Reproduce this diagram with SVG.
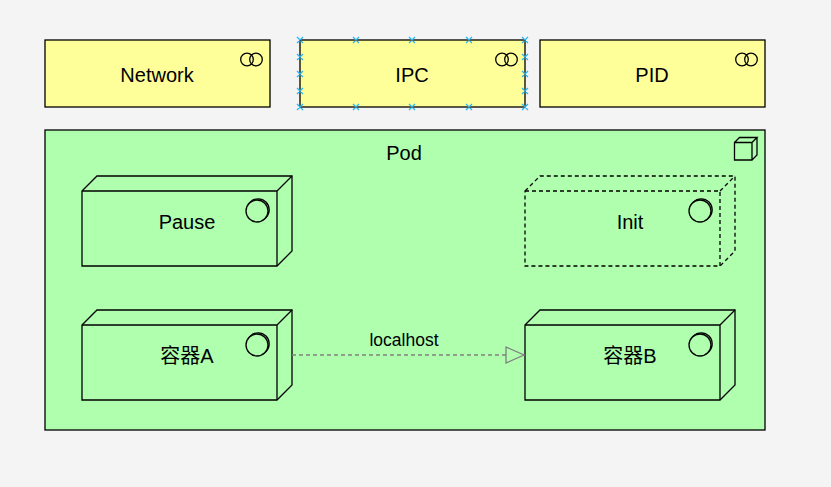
<svg xmlns="http://www.w3.org/2000/svg" width="831" height="487" viewBox="0 0 831 487">
<style>
.bg{fill:#f4f4f4}
.yel{fill:#ffff99;stroke:#000;stroke-width:1.3}
.grn{fill:#afffaf;stroke:#000;stroke-width:1.3}
.dash{stroke-dasharray:4 3}
.ln{fill:none;stroke:#000;stroke-width:1.3}
.t{font-family:"Liberation Sans",Arial,"Noto Sans CJK SC",sans-serif;font-size:20px;fill:#000;text-anchor:middle}
.lbl{font-family:"Liberation Sans",Arial,sans-serif;font-size:17.5px;fill:#000;text-anchor:middle}
.sel{fill:none;stroke:#29b6f2;stroke-width:1.3}
.con{fill:none;stroke:#808080;stroke-width:1.3;stroke-dasharray:4 3}
</style>
<defs>
<marker id="tri" markerUnits="userSpaceOnUse" markerWidth="22" markerHeight="20" refX="19" refY="9" orient="auto">
<path d="M1,1 L19,9 L1,17 Z" fill="#afffaf" stroke="#808080" stroke-width="1.3"/>
</marker>
<g id="collab"><circle cx="-4.5" cy="0" r="6.3" class="ln"/><circle cx="4.5" cy="0" r="6.3" class="ln"/></g>
<g id="comp"><circle cx="1.2" cy="-1.2" r="11" class="ln"/><circle cx="0" cy="0" r="11" fill="#afffaf" stroke="#000" stroke-width="1.3"/></g>
</defs>
<rect class="bg" x="0" y="0" width="831" height="487"/>

<g id="network">
<rect class="yel" x="45" y="40" width="225" height="67"/>
<use href="#collab" x="251.5" y="59.5"/>
<text class="t" x="157" y="81.5">Network</text>
</g>

<g id="ipc">
<rect class="yel" x="300" y="40" width="225" height="67"/>
<use href="#collab" x="506.5" y="59.5"/>
<text class="t" x="412" y="81.5">IPC</text>
<path class="sel" d="M297,37l6,6m0,-6l-6,6 M353,37l6,6m0,-6l-6,6 M409,37l6,6m0,-6l-6,6 M466,37l6,6m0,-6l-6,6 M522,37l6,6m0,-6l-6,6 M297,104l6,6m0,-6l-6,6 M353,104l6,6m0,-6l-6,6 M409,104l6,6m0,-6l-6,6 M466,104l6,6m0,-6l-6,6 M522,104l6,6m0,-6l-6,6 M297,54l6,6m0,-6l-6,6 M297,71l6,6m0,-6l-6,6 M297,88l6,6m0,-6l-6,6 M522,54l6,6m0,-6l-6,6 M522,71l6,6m0,-6l-6,6 M522,88l6,6m0,-6l-6,6"/>
</g>

<g id="pid">
<rect class="yel" x="540" y="40" width="225" height="67"/>
<use href="#collab" x="746.5" y="59.5"/>
<text class="t" x="652" y="81.5">PID</text>
</g>

<g id="pod">
<rect class="grn" x="45" y="130" width="720" height="300"/>
<path class="ln" d="M734.5,142.5h17.5v17.5h-17.5z M734.5,142.5l5,-5h17.5l-5,5 M757,137.5v17.5l-5,5"/>
<text class="t" x="404" y="160">Pod</text>
</g>

<g id="pause">
<path class="grn" d="M82,191l15,-15h195v75l-15,15h-195z"/>
<path class="ln" d="M82,191h195v75 M277,191l15,-15"/>
<use href="#comp" x="257" y="211"/>
<text class="t" x="187" y="229">Pause</text>
</g>

<g id="init">
<path class="grn dash" d="M525,191l15,-15h195v75l-15,15h-195z"/>
<path class="ln dash" d="M525,191h195v75 M720,191l15,-15"/>
<use href="#comp" x="700" y="211"/>
<text class="t" x="630" y="229">Init</text>
</g>

<g id="containerA">
<path class="grn" d="M82,325l15,-15h195v75l-15,15h-195z"/>
<path class="ln" d="M82,325h195v75 M277,325l15,-15"/>
<use href="#comp" x="257" y="345"/>
<text class="t" x="187" y="363">容器A</text>
</g>

<g id="containerB">
<path class="grn" d="M525,325l15,-15h195v75l-15,15h-195z"/>
<path class="ln" d="M525,325h195v75 M720,325l15,-15"/>
<use href="#comp" x="700" y="345"/>
<text class="t" x="630" y="363">容器B</text>
</g>

<g id="connectors">
<path class="con" d="M292,355H524" marker-end="url(#tri)"/>
<text class="lbl" x="404" y="346">localhost</text>
</g>
</svg>
